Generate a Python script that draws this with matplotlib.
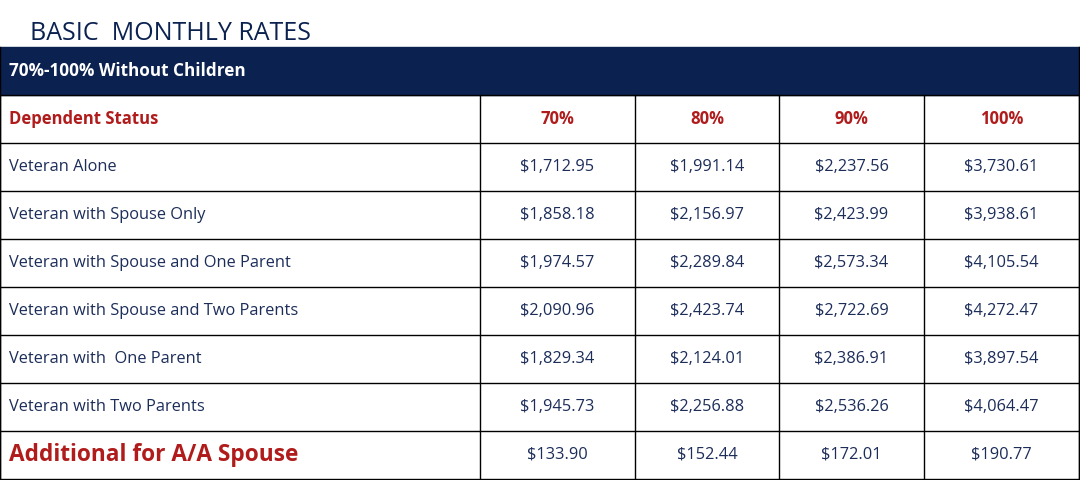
import matplotlib
matplotlib.use("Agg")
import matplotlib.pyplot as plt
from matplotlib.patches import Rectangle

title = "BASIC  MONTHLY RATES"
section = "70%-100% Without Children"
first_col = "Dependent Status"
columns = ["70%", "80%", "90%", "100%"]
statuses = ["Veteran Alone", "Veteran with Spouse Only", "Veteran with Spouse and One Parent",
            "Veteran with Spouse and Two Parents", "Veteran with  One Parent", "Veteran with Two Parents"]
rate_70 = ["$1,712.95", "$1,858.18", "$1,974.57", "$2,090.96", "$1,829.34", "$1,945.73"]
rate_80 = ["$1,991.14", "$2,156.97", "$2,289.84", "$2,423.74", "$2,124.01", "$2,256.88"]
rate_90 = ["$2,237.56", "$2,423.99", "$2,573.34", "$2,722.69", "$2,386.91", "$2,536.26"]
rate_100 = ["$3,730.61", "$3,938.61", "$4,105.54", "$4,272.47", "$3,897.54", "$4,064.47"]
extra_label = "Additional for A/A Spouse"
extra_rates = ["$133.90", "$152.44", "$172.01", "$190.77"]

NAVY = "#0b2150"
TEXT = "#1c2d5a"
RED = "#b01c1c"
FONT = ["Open Sans", "DejaVu Sans"]

fig = plt.figure(figsize=(10.8, 4.8), dpi=100)
ax = fig.add_axes([0, 0, 1, 1])
ax.set_xlim(0, 1080)
ax.set_ylim(480, 0)
ax.axis("off")

ax.text(30, 33, title, fontsize=18, color=NAVY, family=FONT, va="center", ha="left")

top = 47
rh = (479 - top) / 9
xs = [0, 480, 635, 779, 924, 1079]

ax.add_patch(Rectangle((0, top), 1080, rh, facecolor=NAVY, edgecolor=NAVY))
ax.text(9, top + rh / 2, section, fontsize=12.3, color="white", weight="bold", family=FONT, va="center")

def hline(y):
    ax.plot([0, 1079], [y, y], color="black", lw=1)

for i in range(1, 9):
    hline(top + i * rh)
hline(479)
for x in xs:
    ax.plot([x, x], [top + rh, 479], color="black", lw=1)
ax.plot([0, 0], [top, 479], color="black", lw=1)
ax.plot([1079, 1079], [top, 479], color="black", lw=1)

y = top + 1.5 * rh
ax.text(9, y, first_col, fontsize=12, color=RED, weight="bold", family=FONT, va="center")
for j, c in enumerate(columns):
    ax.text((xs[j + 1] + xs[j + 2]) / 2, y, c, fontsize=12, color=RED, weight="bold",
            family=FONT, va="center", ha="center")

cols = [rate_70, rate_80, rate_90, rate_100]
for i, s in enumerate(statuses):
    y = top + (2.5 + i) * rh
    ax.text(9, y, s, fontsize=11.8, color=TEXT, family=FONT, va="center")
    for j in range(4):
        ax.text((xs[j + 1] + xs[j + 2]) / 2, y, cols[j][i], fontsize=11.8, color=TEXT,
                family=FONT, va="center", ha="center")

y = top + 8.5 * rh
ax.text(9, y, extra_label, fontsize=16.3, color=RED, weight="bold", family=FONT, va="center")
for j in range(4):
    ax.text((xs[j + 1] + xs[j + 2]) / 2, y, extra_rates[j], fontsize=11.8, color=TEXT,
            family=FONT, va="center", ha="center")

fig.savefig("out.png", dpi=100)
